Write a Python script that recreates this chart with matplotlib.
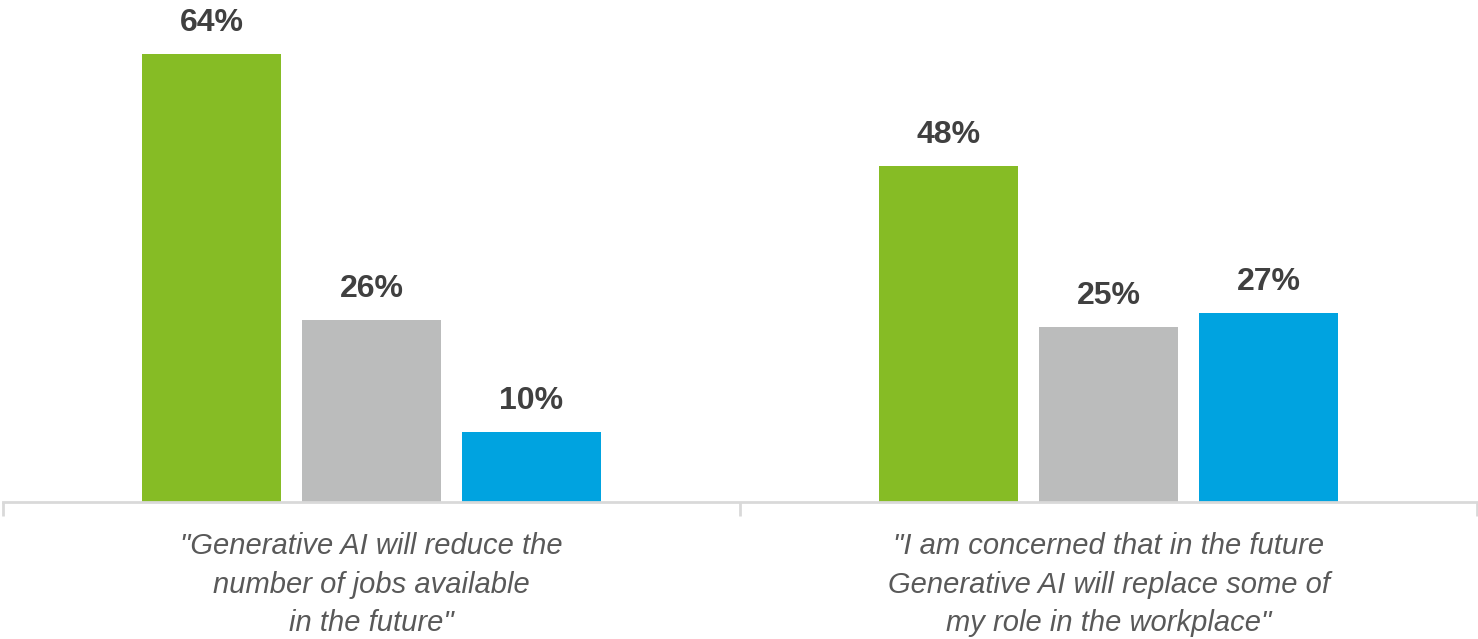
import matplotlib.pyplot as plt
import numpy as np

categories = ['"Generative AI will reduce the\nnumber of jobs available\nin the future"',
              '"I am concerned that in the future\nGenerative AI will replace some of\nmy role in the workplace"']
series_agree = [64, 48]
series_neutral = [26, 25]
series_disagree = [10, 27]

colors = ['#86BC25', '#BBBCBC', '#00A3E0']

fig = plt.figure(figsize=(14.78, 6.39), dpi=100)
ax = fig.add_axes([3 / 1478, 1 - 502 / 639, 1474 / 1478, 502 / 639])

x = np.arange(len(categories))
width = 0.189
step = 0.217
for i, vals in enumerate([series_agree, series_neutral, series_disagree]):
    pos = x + (i - 1) * step
    ax.bar(pos, vals, width=width, color=colors[i], zorder=2)
    for p, v in zip(pos, vals):
        ax.text(p, v + 4.4, f'{v}%', ha='center', va='center', fontsize=23,
                fontweight='bold', color='#404040', family='Liberation Sans')

ax.set_xlim(-0.5, 1.5)
ax.set_ylim(0, 71.7)
for s in ['top', 'right', 'left']:
    ax.spines[s].set_visible(False)
ax.spines['bottom'].set_color('#D9D9D9')
ax.spines['bottom'].set_linewidth(2)
ax.set_yticks([])
ax.set_xticks([-0.5, 0.5, 1.5])
ax.set_xticklabels([])
ax.tick_params(axis='x', length=10, width=2, color='#D9D9D9')

for xi, lab in zip(x, categories):
    ax.text(xi, -4.35, lab, ha='center', va='top', clip_on=False,
            fontsize=21, style='italic', color='#595959', linespacing=1.47,
            family='Liberation Sans')

fig.savefig('out.png', dpi=100)
